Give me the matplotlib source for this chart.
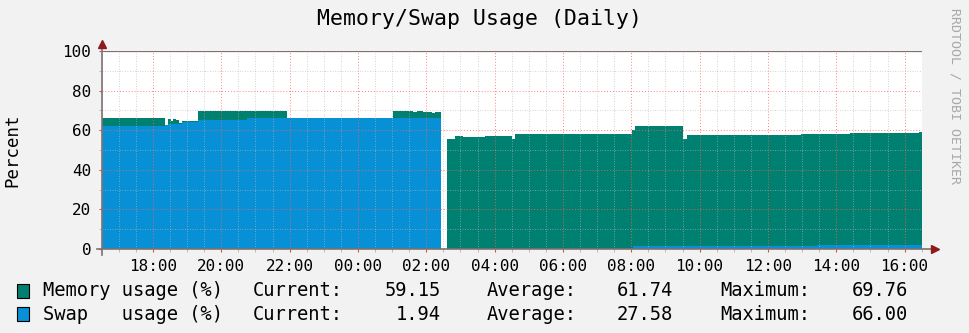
import numpy as np
import pandas as pd
import matplotlib
matplotlib.use('Agg')
import matplotlib.pyplot as plt
import matplotlib.dates as mdates
from matplotlib.patches import Rectangle

plt.rcParams['font.family'] = 'DejaVu Sans Mono'

## DATA (step values, each one holds until the next time stamp)
mem_times = ['2023-05-01 16:30', '2023-05-01 18:22', '2023-05-01 18:26', '2023-05-01 18:31',
             '2023-05-01 18:36', '2023-05-01 18:41', '2023-05-01 18:46', '2023-05-01 18:51',
             '2023-05-01 19:19', '2023-05-01 21:56', '2023-05-02 01:02', '2023-05-02 01:37',
             '2023-05-02 01:43', '2023-05-02 01:54', '2023-05-02 01:59', '2023-05-02 02:10',
             '2023-05-02 02:15', '2023-05-02 02:26', '2023-05-02 02:36', '2023-05-02 02:50',
             '2023-05-02 03:05', '2023-05-02 03:43', '2023-05-02 03:49', '2023-05-02 04:31',
             '2023-05-02 04:36', '2023-05-02 08:01', '2023-05-02 08:07', '2023-05-02 09:31',
             '2023-05-02 09:38', '2023-05-02 12:58', '2023-05-02 14:24', '2023-05-02 16:25',
             '2023-05-02 16:30']
mem_vals = [66.3, 62.5, 65.8, 64.8, 65.8, 65.2, 63.5, 64.6,
            69.5, 66.2, 69.76, 69.0, 69.5, 69.0, 69.4, 68.8,
            69.3, np.nan, 55.5, 57.2, 56.4, 57.2, 56.9, 55.5,
            57.9, 60.0, 62.3, 55.8, 57.7, 58.3, 58.8, 59.15]

swap_times = ['2023-05-01 16:30', '2023-05-01 18:22', '2023-05-01 18:26', '2023-05-01 18:46',
              '2023-05-01 18:51', '2023-05-01 19:19', '2023-05-01 20:45', '2023-05-02 02:26',
              '2023-05-02 02:36', '2023-05-02 08:03', '2023-05-02 13:26', '2023-05-02 16:30']
swap_vals = [62.0, 62.5, 63.3, 63.0, 64.2, 65.3, 66.0, np.nan, 0.0, 1.3, 1.94]

legend_rows = [('Memory usage (%)', '59.15', '61.74', '69.76'),
               ('Swap   usage (%)', '1.94', '27.58', '66.00')]

c_mem = '#008070'
c_swap = '#0890D6'
c_bg = '#F2F2F2'
c_axis = '#7E7070'
c_arrow = '#8E1C1C'

fig = plt.figure(figsize=(9.7, 3.33), dpi=100, facecolor=c_bg)
ax = fig.add_axes([101.7/970, 1-249/333, 820/970, 198/333])
ax.set_facecolor('white')

mem_edges = mdates.date2num(pd.to_datetime(mem_times))
swap_edges = mdates.date2num(pd.to_datetime(swap_times))
ax.stairs(np.nan_to_num(mem_vals), mem_edges, fill=True, color=c_mem, baseline=0, zorder=1)
ax.stairs(np.nan_to_num(swap_vals), swap_edges, fill=True, color=c_swap, baseline=0, zorder=1.1)

ax.set_xlim(mem_edges[0], mem_edges[-1])
ax.set_ylim(0, 100)

## ejes
ax.xaxis.set_major_locator(mdates.HourLocator(byhour=range(0, 24, 2)))
ax.xaxis.set_major_formatter(mdates.DateFormatter('%H:%M'))
ax.xaxis.set_minor_locator(mdates.MinuteLocator(byminute=[0, 30]))
ax.set_yticks(np.arange(0, 101, 20))
ax.set_yticks(np.arange(0, 101, 10), minor=True)
ax.tick_params(axis='both', which='major', labelsize=11.5, length=2.5, width=0.8,
               color='#D05050', direction='out', pad=5)
ax.tick_params(axis='both', which='minor', length=2, width=0.6, color='#B0B0B0', direction='out')

ax.set_axisbelow(False)
ax.grid(True, which='minor', color='#B8B8B8', linestyle=(0, (1, 2)), linewidth=0.6, alpha=0.8)
ax.grid(True, which='major', color='#FF6060', linestyle=(0, (1, 2)), linewidth=0.7, alpha=0.8)

for s in ax.spines.values():
    s.set_visible(False)
ax.axhline(100, color=c_axis, linewidth=1.6, zorder=4)
ax.plot([-0.006, 1.012], [0, 0], transform=ax.transAxes, color=c_axis, linewidth=1.2,
        clip_on=False, zorder=5)
ax.plot([0, 0], [-0.03, 1.03], transform=ax.transAxes, color=c_axis, linewidth=1.2,
        clip_on=False, zorder=5)
ax.plot([1.016], [0], marker='>', markersize=6, color=c_arrow, transform=ax.transAxes,
        clip_on=False, zorder=6)
ax.plot([0], [1.035], marker='^', markersize=6, color=c_arrow, transform=ax.transAxes,
        clip_on=False, zorder=6)

## textos
fig.text(480/970, 1-19/333, 'Memory/Swap Usage (Daily)', fontsize=15.5, ha='center', va='center')
fig.text(12/970, 1-150/333, 'Percent', fontsize=12.5, rotation=90, ha='center', va='center')
fig.text(955/970, 1-96/333, 'RRDTOOL / TOBI OETIKER', fontsize=9.5, rotation=270,
         ha='center', va='center', color='#A8A8A8')

## leyenda
row_y = [291, 314]
for (name, cur, avg, mx), col, yy in zip(legend_rows, [c_mem, c_swap], row_y):
    fy = 1 - yy/333
    fig.add_artist(Rectangle((17/970, 1-(yy+7)/333), 12/970, 14/333, facecolor=col,
                             edgecolor='black', linewidth=0.8, transform=fig.transFigure))
    fig.text(43/970, fy, name, fontsize=13.5, va='center')
    fig.text(253/970, fy, 'Current:', fontsize=13.5, va='center')
    fig.text(441/970, fy, cur, fontsize=13.5, va='center', ha='right')
    fig.text(487/970, fy, 'Average:', fontsize=13.5, va='center')
    fig.text(673/970, fy, avg, fontsize=13.5, va='center', ha='right')
    fig.text(720/970, fy, 'Maximum:', fontsize=13.5, va='center')
    fig.text(908/970, fy, mx, fontsize=13.5, va='center', ha='right')

plt.savefig('out.png', dpi=100, facecolor=c_bg)
